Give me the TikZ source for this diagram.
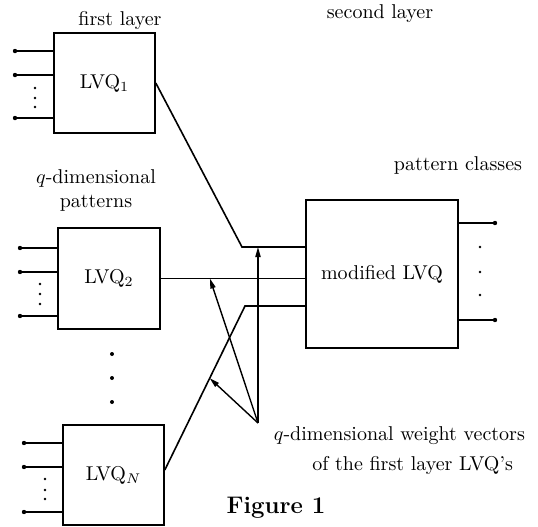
\documentclass[tikz,border=0pt]{standalone}
\usetikzlibrary{arrows.meta,calc}
\begin{document}
\begin{tikzpicture}[x=0.5pt,y=-0.5pt,
  box/.style={draw, line width=0.8pt, inner sep=0pt},
  wire/.style={line width=0.8pt},
  ptr/.style={line width=0.7pt, -{Triangle[length=5pt,width=2.6pt]}},
  pin/.style={circle, fill, inner sep=0pt, minimum size=2.2pt},
  dotmark/.style={circle, fill, inner sep=0pt, minimum size=1.4pt},
  bigdot/.style={circle, fill, inner sep=0pt, minimum size=2pt},
]
\useasboundingbox (0,0) rectangle (538,527);

% first-layer quantizers and the second-layer block
\node[box, minimum width=50.5pt, minimum height=50pt] (lvq1) at (104.5,83) {LVQ$_1$};
\node[box, minimum width=51pt, minimum height=50.5pt] (lvq2) at (109,278.5) {LVQ$_2$};
\node[box, minimum width=50.5pt, minimum height=50pt] (lvqN) at (113.5,475) {LVQ$_N$};
\node[box, minimum width=76pt, minimum height=74pt] (mod) at (382,274) {modified LVQ};

% labels
\node (lblfirst) at (120,20) {first layer};
\node (lblsecond) at (380,14) {second layer};
\node (lblclasses) at (458,165) {pattern classes};
\node[align=center] (lblpat) at (96,190) {$q$-dimensional\\patterns};
\node[anchor=east] (lblw1) at (532,436) {$q$-dimensional weight vectors};
\node[anchor=east] (lblw2) at (520,465) {of the first layer LVQ's};
\node[font=\large\bfseries] (caption) at (276,508) {Figure 1};

% input lines of LVQ_1
\foreach \y [count=\k] in {51,75,118} {
  \node[pin] (ia\k) at (15,\y) {};
  \draw[wire] (ia\k.center) -- (ia\k -| lvq1.west);
}
\foreach \y [count=\k] in {88,98,107} \node[dotmark] (da\k) at (35,\y) {};

% input lines of LVQ_2
\foreach \y [count=\k] in {248,272,316} {
  \node[pin] (ib\k) at (20,\y) {};
  \draw[wire] (ib\k.center) -- (ib\k -| lvq2.west);
}
\foreach \y [count=\k] in {284,294,304} \node[dotmark] (db\k) at (40,\y) {};

% input lines of LVQ_N
\foreach \y [count=\k] in {443,467,512} {
  \node[pin] (ic\k) at (24,\y) {};
  \draw[wire] (ic\k.center) -- (ic\k -| lvqN.west);
}
\foreach \y [count=\k] in {479,490,499} \node[dotmark] (dc\k) at (45,\y) {};

% vertical ellipsis between LVQ_2 and LVQ_N
\foreach \y [count=\k] in {354,378,402} \node[bigdot] (vd\k) at (112,\y) {};

% output lines of the second layer
\foreach \y [count=\k] in {223,320} {
  \node[pin] (out\k) at (495,\y) {};
  \draw[wire] (out\k -| mod.east) -- (out\k.center);
}
\foreach \y [count=\k] in {247,272,295} \node[dotmark] (do\k) at (480,\y) {};

% connections from the first layer into the second layer
\coordinate (k1) at (242,247);
\draw[wire] (lvq1.east) -- (k1) -- (k1 -| mod.west);
\draw[wire] (lvq2.east) -- (lvq2.east -| mod.west);
\coordinate (nout) at ($(lvqN.east)+(0,-5)$);
\coordinate (k3) at (245,306);
\draw[wire] (nout) -- (k3) -- (k3 -| mod.west);

% weight-vector pointers
\coordinate (src) at (258,423);
\coordinate (h2) at ($(lvq2.east)!0.34!(lvq2.east -| mod.west)$);
\coordinate (hN) at ($(nout)!0.56!(k3)$);
\draw[ptr] (src) -- (src |- k1);
\draw[ptr] (src) -- (h2);
\draw[ptr] (src) -- (hN);
\end{tikzpicture}
\end{document}
